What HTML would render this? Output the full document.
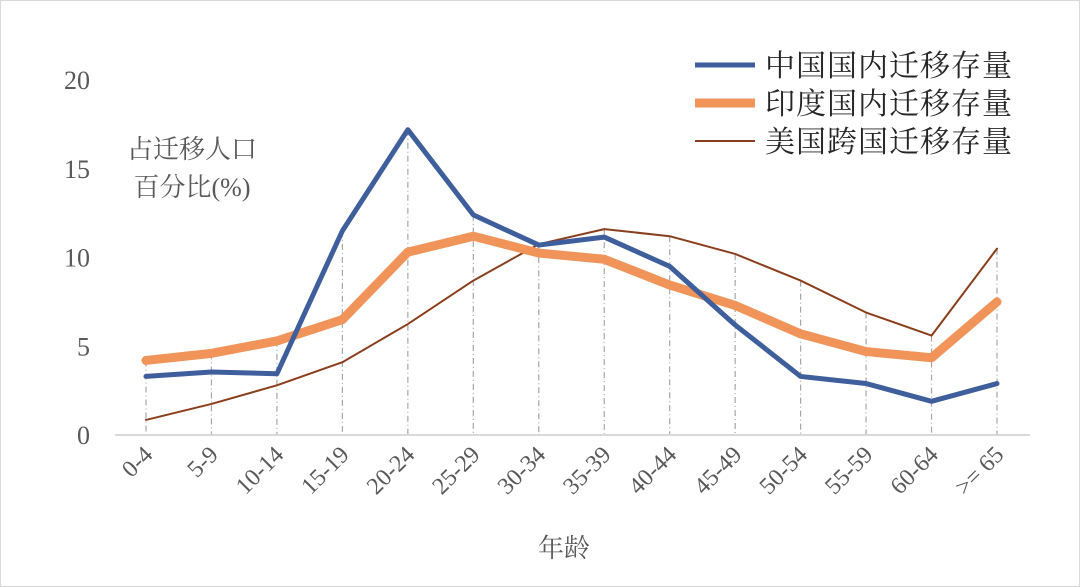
<!DOCTYPE html>
<html><head><meta charset="utf-8"><style>
body{margin:0;background:#fff;}
svg{display:block;font-family:"Liberation Serif","Noto Serif CJK SC",serif;}
</style></head><body>
<svg id="chart" width="1080" height="587">
<rect x="0.5" y="0.5" width="1079" height="586" fill="#fff" stroke="#d9d9d9"/>
<g id="grid"></g>
<line x1="115" y1="435" x2="1030" y2="435" stroke="#d9d9d9" stroke-width="2"/>
<g id="yt" fill="#595959" font-size="26" text-anchor="end"></g>
<g id="xt" fill="#595959" font-size="24"></g>
<g id="series"></g>
<text x="192" y="158" font-size="26" fill="#595959" text-anchor="middle">占迁移人口</text>
<text x="192" y="196" font-size="26" fill="#595959" text-anchor="middle">百分比(%)</text>
<text x="564" y="557" font-size="26" fill="#595959" text-anchor="middle">年龄</text>
<g font-size="30" letter-spacing="1" fill="#262626">
<line x1="695" y1="65" x2="755" y2="65" stroke="#3e5f9b" stroke-width="5"/>
<text x="765" y="76">中国国内迁移存量</text>
<line x1="695" y1="103" x2="755" y2="103" stroke="#f0945a" stroke-width="9"/>
<text x="765" y="114">印度国内迁移存量</text>
<line x1="695" y1="141" x2="755" y2="141" stroke="#8b3e1c" stroke-width="2"/>
<text x="765" y="152">美国跨国迁移存量</text>
</g>
</svg>
<script>
const categories=["0-4","5-9","10-14","15-19","20-24","25-29","30-34","35-39","40-44","45-49","50-54","55-59","60-64",">= 65"];
const china=[3.3,3.55,3.45,11.5,17.2,12.4,10.7,11.15,9.5,6.2,3.3,2.9,1.9,2.9];
const india=[4.2,4.6,5.3,6.5,10.3,11.2,10.25,9.9,8.45,7.3,5.7,4.7,4.35,7.5];
const usa=[0.85,1.75,2.8,4.1,6.25,8.7,10.75,11.6,11.2,10.2,8.7,6.9,5.6,10.5];
const yTicks=[0,5,10,15,20];
const NS="http://www.w3.org/2000/svg";
const x=i=>146+i*(997-146)/(categories.length-1);
const y=v=>435-v*17.75;
function mk(t,a,p){const e=document.createElementNS(NS,t);for(const k in a)e.setAttribute(k,a[k]);p.appendChild(e);return e;}
const yt=document.getElementById('yt');
yTicks.forEach(v=>{const t=mk('text',{x:90,y:y(v)+9},yt);t.textContent=v;

});
const xt=document.getElementById('xt'),grid=document.getElementById('grid');
categories.forEach((c,i)=>{
const top=Math.max(china[i],india[i],usa[i]);
const l=mk('line',{x1:x(i),x2:x(i),y1:y(top),y2:435,stroke:'#a6a6a6','stroke-width':1.2,'stroke-dasharray':'6 3 1 3'},grid);


const t=mk('text',{x:x(i)+8,y:456,'text-anchor':'end',transform:`rotate(-45 ${x(i)+8} 456)`},xt);t.textContent=c;

});
const S=document.getElementById('series');
function line(d,col,w,name){const p=mk('polyline',{points:d.map((v,i)=>x(i)+','+y(v)).join(' '),fill:'none',stroke:col,'stroke-width':w,'stroke-linejoin':'round','stroke-linecap':'round'},S);

}
line(usa,'#8b3e1c',2,'usa-line');
line(india,'#f0945a',9,'india-line');
line(china,'#3e5f9b',5,'china-line');
</script>
</body></html>
